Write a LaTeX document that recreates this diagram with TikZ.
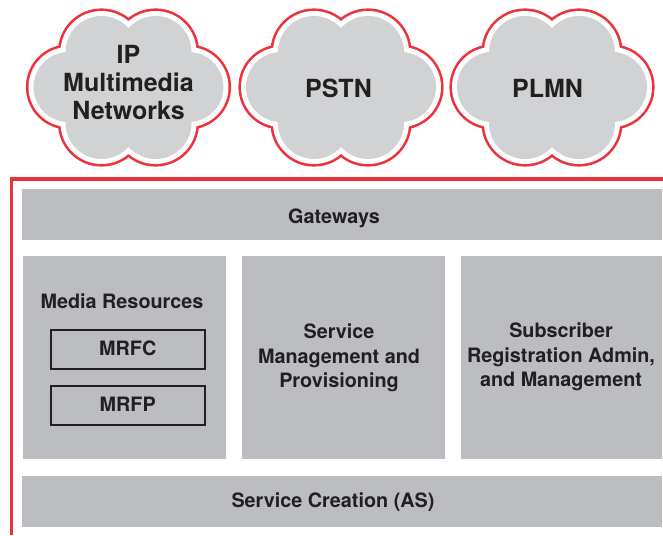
\documentclass[tikz,border=0pt]{standalone}
\usepackage{fontspec}
\setmainfont{TeX Gyre Heros}
\definecolor{framered}{RGB}{237,50,58}
\definecolor{panelgray}{RGB}{188,189,193}
\definecolor{cloudgray}{RGB}{209,210,212}
\definecolor{ink}{RGB}{35,31,32}

% one cloud = union of six puffs and a central disc, grown by #2
\newcommand\cloudpuffs[2]{%
  \fill[#1] (-27,-35) circle[radius=36+#2] (27,-35) circle[radius=36+#2]
            (-60,0) circle[radius=35+#2] (60,0) circle[radius=35+#2]
            (-27,36) circle[radius=36+#2] (27,36) circle[radius=36+#2]
            (0,0) circle[radius=40+#2];}
\newcommand\cloudat[1]{%
  \begin{scope}[shift={#1}]
    \cloudpuffs{framered}{7.6}
    \cloudpuffs{white}{5}
    \cloudpuffs{cloudgray}{0}
  \end{scope}}

\tikzset{
  panel/.style={fill=panelgray, draw=none, inner sep=0pt, anchor=north west},
  subbox/.style={draw=ink, line width=1.5pt, inner sep=0pt, anchor=north west,
                 minimum width=154, minimum height=39},
  boxtext/.style={font=\bfseries\fontsize{19.8}{24.5}\selectfont, text=ink,
                  inner sep=0pt, align=center},
  cloudtext/.style={font=\bfseries\fontsize{25}{28}\selectfont, text=ink,
                    inner sep=0pt, align=center},
  frame/.style={draw=framered, line width=3.4pt, line cap=butt, line join=miter}
}

\begin{document}
\begin{tikzpicture}[x=1pt, y=-1pt]
  \useasboundingbox (0,0) rectangle (663,535);

  % external networks
  \cloudat{(128.5,87)}
  \cloudat{(341,87)}
  \cloudat{(552,87)}
  \node[cloudtext, anchor=north] (ipnet) at (128.5,45) {IP\\Multimedia\\Networks};
  \node[cloudtext, anchor=base] (pstn) at (338.5,97) {PSTN};
  \node[cloudtext, anchor=base] (plmn) at (547.5,97) {PLMN};

  % IMS frame
  \draw[frame] (11.3,535) -- (11.3,179) -- (663,179);

  % layers
  \node[panel, minimum width=640, minimum height=51] (gw) at (22,189) {};
  \node[panel, minimum width=203, minimum height=203] (media) at (23,256) {};
  \node[panel, minimum width=203, minimum height=203] (smp) at (242,256) {};
  \node[panel, minimum width=201, minimum height=203] (sub) at (461,256) {};
  \node[panel, minimum width=640, minimum height=51] (sc) at (22,476) {};

  \node[subbox] (mrfc) at (50,329) {};
  \node[subbox] (mrfp) at (50,385) {};

  \node[boxtext, anchor=base] (gwtext) at (334,223.5) {Gateways};
  \node[boxtext, anchor=base] (mediatext) at (122,308) {Media Resources};
  \node[boxtext, anchor=base] (mrfctext) at (mrfc.center |- 0,355.5) {MRFC};
  \node[boxtext, anchor=base] (mrfptext) at (mrfp.center |- 0,411.5) {MRFP};
  \node[boxtext, anchor=north] (smptext) at (339,324) {Service\\Management and\\Provisioning};
  \node[boxtext, anchor=north] (subtext) at (561,323) {Subscriber\\Registration Admin,\\and Management};
  \node[boxtext, anchor=base] (sctext) at (333,507.8) {Service Creation (AS)};
\end{tikzpicture}
\end{document}
